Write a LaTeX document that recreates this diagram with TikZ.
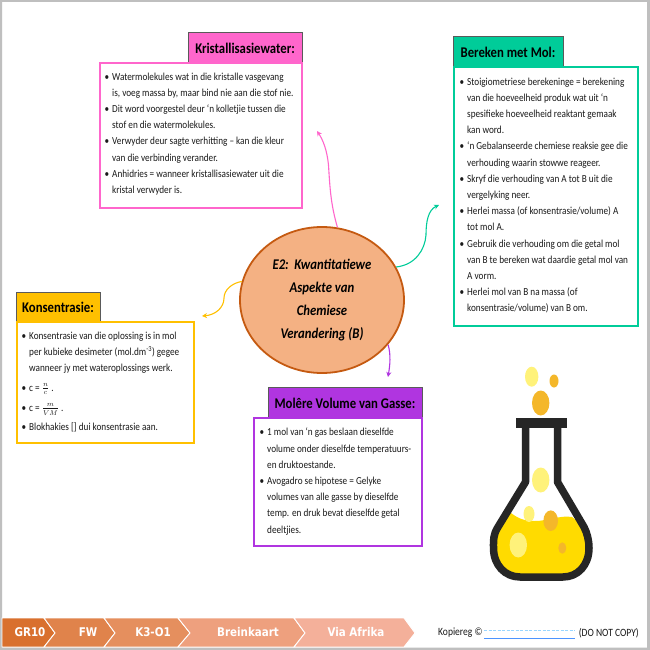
\documentclass[tikz,border=0pt]{standalone}
\usepackage{fontspec}
\setmainfont[FakeStretch=0.86]{Carlito}
\newfontfamily\chevfont[FakeStretch=0.86]{DejaVu Sans}
\usetikzlibrary{shapes.geometric,arrows.meta}
\definecolor{cpink}{HTML}{FF66CC}
\definecolor{cgreen}{HTML}{00CC99}
\definecolor{cyell}{HTML}{FFC000}
\definecolor{cpurp}{HTML}{B035E0}
\definecolor{hedge}{HTML}{5A5A5A}
\definecolor{fdark}{HTML}{262626}
\definecolor{fgold}{HTML}{FFDB00}
\definecolor{fpale}{HTML}{FFF27A}
\definecolor{forange}{HTML}{F4B72A}
\definecolor{eedge}{RGB}{197,90,17}
\definecolor{efill}{RGB}{244,177,131}
\definecolor{cha}{RGB}{217,112,46}
\definecolor{chb}{RGB}{224,131,75}
\definecolor{chc}{RGB}{229,143,94}
\definecolor{chd}{RGB}{238,160,126}
\definecolor{che}{RGB}{244,176,154}
\newcommand{\bul}{\leavevmode\llap{\textbullet\hspace{3pt}}}
\tikzset{
  bodybox/.style={draw=#1,line width=2.7pt,fill=white},
  headbox/.style={draw=hedge,line width=0.8pt,fill=#1},
  headtext/.style={font=\fontsize{14.8}{16}\selectfont\bfseries,text=black,inner sep=0pt},
  bodytext/.style={font=\fontsize{10.7}{16.2}\selectfont,align=left,anchor=west,inner sep=0pt,text=black!90},
  conn/.style={draw=#1,line width=1.1pt,-{Stealth[length=5pt,width=5pt]}},
  chev/.style={fill=#1,draw=white,line width=0.9pt},
  chevtext/.style={font=\chevfont\bfseries\fontsize{12}{14}\selectfont,text=white,inner sep=0pt},
  smalltext/.style={font=\fontsize{11.1}{13}\selectfont,inner sep=0pt,text=black!90},
  bub/.style={fill=#1,draw=none}
}
\begin{document}
\begin{tikzpicture}[x=1pt,y=-1pt]
\useasboundingbox (0,0) rectangle (650,650);
\fill[white] (0,0) rectangle (650,650);
\fill[black!25,even odd rule] (0,0) rectangle (650,650) (2,2) rectangle (647,647.5);

% Kristallisasiewater
\draw[headbox=cpink] (188,32) rectangle (302,63);
\draw[bodybox=cpink] (100,63) rectangle (302,208);
\node[headtext] (h1) at (245,48) {Kristallisasiewater:};
\node[bodytext] (b1) at (112,134) {\lineskiplimit=-100pt
\bul Watermolekules wat in die kristalle vasgevang\\
is, voeg massa by, maar bind nie aan die stof nie.\\
\bul Dit word voorgestel deur ‘n kolletjie tussen die\\
stof en die watermolekules.\\
\bul Verwyder deur sagte verhitting – kan die kleur\\
van die verbinding verander.\\
\bul Anhidries = wanneer kristallisasiewater uit die\\
kristal verwyder is.};

% Bereken met Mol
\draw[headbox=cgreen] (453,36) rectangle (563,67);
\draw[bodybox=cgreen] (454,67) rectangle (638,326);
\node[headtext] (h2) at (508,52) {Bereken met Mol:};
\node[bodytext] (b2) at (467,195.5) {\lineskiplimit=-100pt
\bul Stoigiometriese berekeninge = berekening\\
van die hoeveelheid produk wat uit ‘n\\
spesifieke hoeveelheid reaktant gemaak\\
kan word.\\
\bul ‘n Gebalanseerde chemiese reaksie gee die\\
verhouding waarin stowwe reageer.\\
\bul Skryf die verhouding van A tot B uit die\\
vergelyking neer.\\
\bul Herlei massa (of konsentrasie/volume) A\\
tot mol A.\\
\bul Gebruik die verhouding om die getal mol\\
van B te bereken wat daardie getal mol van\\
A vorm.\\
\bul Herlei mol van B na massa (of\\
konsentrasie/volume) van B om.};

% Konsentrasie
\draw[headbox=cyell] (16,292) rectangle (100,322);
\draw[bodybox=cyell] (17,322) rectangle (194,443);
\node[headtext] (h3) at (58,307) {Konsentrasie:};
\node[bodytext] (b3) at (29,382) {\lineskiplimit=-100pt
\bul Konsentrasie van die oplossing is in mol\\
per kubieke desimeter (mol.dm\textsuperscript{-3}) gegee\\
wanneer jy met wateroplossings werk.\\[3pt]
\bul c = $\frac{n}{c}$ .\\[4pt]
\bul c = $\frac{m}{VM}$ .\\[3pt]
\bul Blokhakies [] dui konsentrasie aan.};

% Molere volume
\draw[headbox=cpurp] (268,387) rectangle (422,418);
\draw[bodybox=cpurp] (254,418) rectangle (422,546);
\node[headtext] (h4) at (345,403) {Molêre Volume van Gasse:};
\node[bodytext] (b4) at (267,481.5) {\lineskiplimit=-100pt
\bul 1 mol van ‘n gas beslaan dieselfde\\
volume onder dieselfde temperatuurs-\\
en druktoestande.\\
\bul Avogadro se hipotese = Gelyke\\
volumes van alle gasse by dieselfde\\
temp. en druk bevat dieselfde getal\\
deeltjies.};

% Centre
\node[ellipse,draw=eedge,line width=1.8pt,fill=efill,
  minimum width=164pt,minimum height=146pt,inner sep=0pt,align=center,
  font=\fontsize{14.8}{22.8}\selectfont\bfseries\itshape] (centre) at (322,300)
  {E2:~~Kwantitatiewe\\Aspekte van\\Chemiese\\Verandering (B)};

% Connectors
\coordinate (pe) at (317,131);
\coordinate (ge) at (439,205);
\coordinate (ye) at (202,316);
\coordinate (ue) at (388,377);
\draw[conn=cpink] (centre.78) .. controls (331,205) and (330,190) .. (328.5,165) .. controls (327,150) and (323,140) .. (pe);
\draw[conn=cgreen] (centre.24) .. controls (415,265) and (425,250) .. (426,235) .. controls (426,222) and (428,210) .. (ge);
\draw[conn=cyell] (centre.167) .. controls (232,283) and (224,290) .. (224,298) .. controls (224,308) and (215,315) .. (ye);
\draw[conn=cpurp] (centre.326) .. controls (391,355) and (390,365) .. (ue);

% Flask
\fill[fgold] (511,513) .. controls (520,520) and (527,521) .. (535,521) .. controls (548,521) and (560,515) .. (572,517)
  -- (584,527) .. controls (587,533) and (589,540) .. (589,548) .. controls (589,565) and (578,577) .. (563,577)
  -- (520,577) .. controls (505,577) and (493.5,565) .. (493.5,548) .. controls (493.5,540) and (493,535) .. (498,527) -- cycle;
\draw[fdark,line width=7.5pt,line join=round] (525.5,428) -- (525.5,482) -- (498,527) .. controls (493,535) and (493.5,540) .. (493.5,548)
  .. controls (493.5,565) and (505,577) .. (520,577) -- (563,577) .. controls (578,577) and (589,565) .. (589,548)
  .. controls (589,540) and (587,533) .. (584,527) -- (557.5,482) -- (557.5,428);
\fill[fdark] (516,418) rectangle (567,428);
\fill[bub=fpale] (531.7,376.7) ellipse (6.7 and 10);
\fill[bub=forange] (554,381) ellipse (4.5 and 6.5);
\fill[bub=forange] (540.7,403) ellipse (8.7 and 12.5);
\fill[bub=fpale] (540.7,480) ellipse (8.7 and 12.5);
\fill[bub=fpale] (529,514) ellipse (5.5 and 8);
\fill[bub=forange] (550.7,520.7) ellipse (7.3 and 10.3);
\fill[bub=fpale] (518.3,545) ellipse (8.7 and 12.5);
\fill[bub=forange] (562.3,548) ellipse (4 and 5.7);

% Footer
\draw[chev=cha] (2,618) -- (44,618) -- (55,633) -- (44,647) -- (2,647) -- cycle;
\draw[chev=chb] (44,618) -- (104,618) -- (115,633) -- (104,647) -- (44,647) -- (55,633) -- cycle;
\draw[chev=chc] (104,618) -- (178,618) -- (190,633) -- (178,647) -- (104,647) -- (115,633) -- cycle;
\draw[chev=chd] (178,618) -- (294,618) -- (305,633) -- (294,647) -- (178,647) -- (190,633) -- cycle;
\draw[chev=che] (294,618) -- (404,618) -- (415,633) -- (404,647) -- (294,647) -- (305,633) -- cycle;
\node[chevtext] (c1) at (30,632.5) {GR10};
\node[chevtext] (c2) at (88,632.5) {FW};
\node[chevtext] (c3) at (153,632.5) {K3-O1};
\node[chevtext] (c4) at (248,632.5) {Breinkaart};
\node[chevtext] (c5) at (356,632.5) {Via Afrika};

\node[smalltext,anchor=west] (k1) at (438,633) {Kopiereg ©};
\node[smalltext,anchor=east] (k2) at (639,633) {(DO NOT COPY)};
\draw[blue!60!cyan!70,line width=0.7pt] (484,638) -- (575,638);
\draw[blue!40!cyan!40,line width=1.2pt,dash pattern=on 3pt off 1.5pt] (484,630.5) -- (575,630.5);
\end{tikzpicture}
\end{document}
